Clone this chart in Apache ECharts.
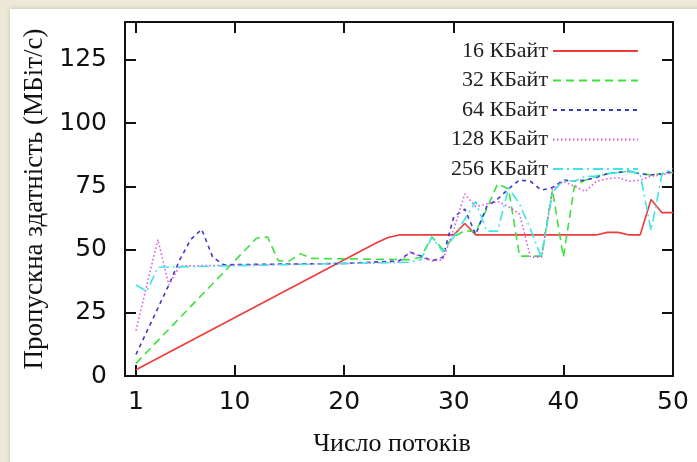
<!DOCTYPE html>
<html>
<head>
<meta charset="utf-8">
<script src="https://cdn.jsdelivr.net/npm/echarts@6/dist/echarts.min.js"></script>
<style>
  html, body { margin: 0; padding: 0; background: #ECE9D6; }
  #chart { width: 697px; height: 462px; }
</style>
</head>
<body>
<div id="chart"></div>
<script>
// tick labels
var xTicks = [1, 10, 20, 30, 40, 50];
var yTicks = [0, 25, 50, 75, 100, 125];

var names = ['16 КБайт', '32 КБайт', '64 КБайт', '128 КБайт', '256 КБайт'];

// 16 КБайт
var x16 = [1, 22, 23, 24, 25, 30, 31, 32, 43, 44, 45, 46, 47, 48, 49, 50];
var y16 = [2.5, 50.5, 52.8, 54.8, 55.8, 55.8, 60.3, 55.8, 55.8, 56.8, 56.8, 55.8, 55.8, 69.8, 64.6, 64.6];

// 32 КБайт
var x32 = [1, 12, 13, 14, 15, 16, 17, 26, 27, 28, 29, 30, 31, 32, 33, 34, 35, 36, 37, 38, 39, 40, 41, 42, 43, 44, 45, 46, 47, 48, 49, 50];
var y32 = [5, 54.5, 55, 45.5, 45.5, 48.4, 46.5, 46, 47, 55, 50, 55, 57.5, 57, 66, 76, 74, 47.4, 47.4, 47.4, 73.5, 47, 75, 77.5, 79, 80, 80.5, 81, 80, 79.5, 80, 80.5];

// 64 КБайт
var x64 = [1, 4, 5, 6, 7, 8, 9, 20, 25, 26, 27, 28, 29, 30, 31, 32, 33, 34, 35, 36, 37, 38, 39, 40, 41, 42, 43, 44, 45, 46, 47, 48, 49, 50];
var y64 = [8.5, 36, 46, 54, 58, 47, 44, 44.5, 45.5, 49, 47.5, 45.5, 47, 63, 66, 56, 67, 70, 74, 77.5, 77, 73.5, 74.5, 77.5, 77, 77.5, 78.5, 80, 80.5, 81, 80, 79.5, 80, 81];

// 128 КБайт
var x128 = [1, 3, 4, 5, 20, 25, 26, 27, 28, 29, 30, 31, 32, 33, 34, 35, 36, 37, 38, 39, 40, 41, 42, 43, 44, 45, 46, 47, 48, 49, 50];
var y128 = [18, 54, 36, 43.5, 44.5, 45, 49, 47, 45.5, 46, 58, 72, 67, 68, 69, 67, 64, 47, 47, 74, 77, 75, 73, 77, 78, 78.5, 77, 77.5, 79, 79.5, 80.5];

// 256 КБайт
var x256 = [1, 2, 3, 20, 26, 27, 28, 29, 30, 31, 32, 33, 34, 35, 36, 37, 38, 39, 40, 41, 42, 43, 44, 45, 46, 47, 48, 49, 50];
var y256 = [36, 33.5, 43, 44.5, 45, 46, 55, 49, 55, 62, 69, 57.3, 57.3, 74.4, 68, 58, 46.8, 72.5, 77.5, 77, 79, 79, 80, 80.5, 81, 80, 57.5, 80, 82];

var colors = ['#ee3b3b', '#3ee03e', '#3b3bc8', '#e055e0', '#3ee6e6'];
var dashes = ['solid', [8, 5], [4, 4], [1.5, 2.5], [10, 4, 2, 4]];

function pairs(xs, ys) {
    var out = [];
    for (var i = 0; i < xs.length; i++) out.push([xs[i], ys[i]]);
    return out;
}

var allX = [x16, x32, x64, x128, x256];
var allY = [y16, y32, y64, y128, y256];

var chart = echarts.init(document.getElementById('chart'));

var axisLine = { show: true, onZero: false, lineStyle: { color: '#111', width: 2 } };
var labelFont = { fontFamily: 'DejaVu Sans', fontSize: 25, color: '#111' };
var titleFont = { fontFamily: 'Liberation Serif', fontSize: 26, color: '#111' };

var series = [];
for (var i = 0; i < names.length; i++) {
    series.push({
        name: names[i],
        type: 'line',
        symbol: 'none',
        showSymbol: false,
        data: pairs(allX[i], allY[i]),
        lineStyle: { color: colors[i], width: 1.6, type: dashes[i] },
        itemStyle: { color: colors[i] },
        z: 2 + i
    });
}

var option = {
    animation: false,
    backgroundColor: '#ECE9D6',
    graphic: [{
        type: 'rect',
        left: 10, top: 9,
        shape: { width: 700, height: 470 },
        style: { fill: '#ffffff', shadowBlur: 4, shadowColor: 'rgba(120,110,80,0.35)' },
        z: -10,
        silent: true
    }],
    grid: { left: 125, right: 24, top: 22, bottom: 85 },
    legend: {
        orient: 'vertical',
        align: 'right',
        right: 53,
        top: 35,
        itemWidth: 85,
        itemHeight: 20,
        itemGap: 7.5,
        itemStyle: { opacity: 0, color: 'transparent', borderWidth: 0 },
        textStyle: { fontFamily: 'Liberation Serif', fontSize: 22, color: '#222', lineHeight: 20 },
        data: names
    },
    xAxis: [{
        type: 'value',
        min: 0, max: 50,
        position: 'bottom',
        axisLine: axisLine,
        axisTick: { show: true, inside: true, length: 11, customValues: xTicks, lineStyle: { color: '#111', width: 2 } },
        axisLabel: Object.assign({ customValues: xTicks, margin: 14 }, labelFont),
        splitLine: { show: false },
        name: 'Число потоків',
        nameLocation: 'middle',
        nameGap: 55,
        nameTextStyle: Object.assign({ padding: [0, 14, 0, 0] }, titleFont)
    }, {
        type: 'value',
        min: 0, max: 50,
        position: 'top',
        axisLine: axisLine,
        axisTick: { show: true, inside: true, length: 11, customValues: xTicks, lineStyle: { color: '#111', width: 2 } },
        axisLabel: { show: false },
        splitLine: { show: false }
    }],
    yAxis: [{
        type: 'value',
        min: 0, max: 140,
        position: 'left',
        axisLine: axisLine,
        axisTick: { show: true, inside: true, length: 11, customValues: yTicks, lineStyle: { color: '#111', width: 2 } },
        axisLabel: Object.assign({ customValues: yTicks, margin: 18 }, labelFont),
        splitLine: { show: false },
        name: 'Пропускна здатність (МБіт/с)',
        nameLocation: 'middle',
        nameGap: 72,
        nameTextStyle: Object.assign({}, titleFont, { fontSize: 27 })
    }, {
        type: 'value',
        min: 0, max: 140,
        position: 'right',
        axisLine: axisLine,
        axisTick: { show: true, inside: true, length: 11, customValues: yTicks, lineStyle: { color: '#111', width: 2 } },
        axisLabel: { show: false },
        splitLine: { show: false }
    }],
    series: series
};

chart.setOption(option);
</script>
</body>
</html>
